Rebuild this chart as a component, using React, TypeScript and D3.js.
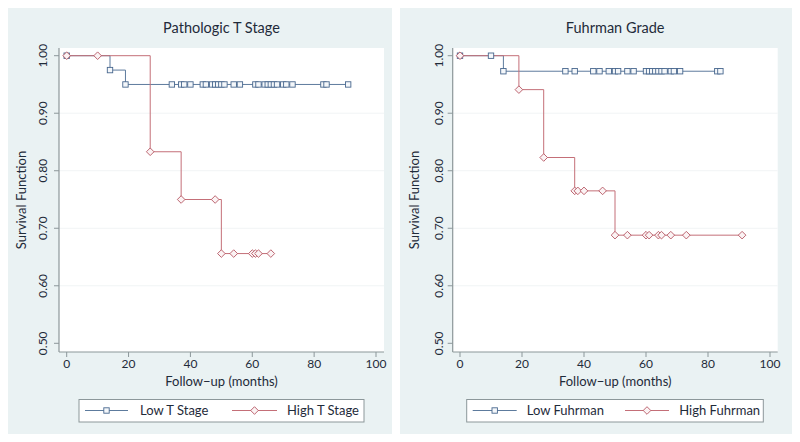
import React from "react";
import * as d3 from "d3";

// ---- Data ----
const xTicks = [0, 20, 40, 60, 80, 100];
const yTicks = [0.5, 0.6, 0.7, 0.8, 0.9, 1.0];

const lowTTimes = [0, 14, 19];
const lowTSurv = [1, 0.975, 0.95];
const lowTEnd = 91;
const lowTMarks = [0, 14, 19, 34, 37, 38, 40, 44, 45, 47, 48, 49, 50, 51, 54, 56, 61, 62, 64, 65, 66, 67, 68, 70, 71, 73, 83, 84, 91];

const highTTimes = [0, 27, 37, 50];
const highTSurv = [1, 0.833, 0.75, 0.656];
const highTEnd = 66;
const highTMarks = [0, 10, 27, 37, 48, 50, 54, 60, 61, 62, 66];

const lowFTimes = [0, 14];
const lowFSurv = [1, 0.973];
const lowFEnd = 84;
const lowFMarks = [0, 10, 14, 34, 37, 43, 45, 48, 50, 51, 54, 56, 60, 61, 62, 63, 64, 65, 66, 68, 69, 71, 83, 84];

const highFTimes = [0, 19, 27, 37, 50];
const highFSurv = [1, 0.941, 0.823, 0.765, 0.688];
const highFEnd = 91;
const highFMarks = [0, 19, 27, 37, 38, 40, 46, 50, 54, 60, 61, 64, 65, 68, 73, 91];

const panelTitles = ["Pathologic T Stage", "Fuhrman Grade"];
const lowLabels = ["Low T Stage", "Low Fuhrman"];
const highLabels = ["High T Stage", "High Fuhrman"];

// ---- Styles ----
const BG = "#eaf2f3";
const BLUE = "#5d7b9d";
const BLUE_M = "#48678e";
const RED = "#c46f78";
const RED_M = "#b55662";
const AXIS = "#8c979a";
const TEXT = "#1f2b3a";
const FONT = "Lato, 'Open Sans', sans-serif";

type Series = { times: number[]; surv: number[]; end: number; marks: number[] };

const survAt = (s: Series, t: number) => {
  let v = s.surv[0];
  for (let i = 0; i < s.times.length; i++) if (s.times[i] <= t) v = s.surv[i];
  return v;
};

const panels = [
  {
    bgX0: 8, bgX1: 392, plotX0: 59, plotX1: 384, x0: 66.7, x1: 376, ytitleX: 22, ylabX: 43,
    legX0: 79, legX1: 364, lowLine: [85, 128], highLine: [232, 277], lowText: 140, highText: 287,
    low: { times: lowTTimes, surv: lowTSurv, end: lowTEnd, marks: lowTMarks },
    high: { times: highTTimes, surv: highTSurv, end: highTEnd, marks: highTMarks },
  },
  {
    bgX0: 400, bgX1: 792, plotX0: 452.7, plotX1: 777.7, x0: 460, x1: 770, ytitleX: 415, ylabX: 439,
    legX0: 466.7, legX1: 763.3, lowLine: [472.7, 516.7], highLine: [625, 669], lowText: 526.7, highText: 679.3,
    low: { times: lowFTimes, surv: lowFSurv, end: lowFEnd, marks: lowFMarks },
    high: { times: highFTimes, surv: highFSurv, end: highFEnd, marks: highFMarks },
  },
];

const plotTop = 48;
const plotBottom = 352;

const Square = ({ x, y }: { x: number; y: number }) => (
  <rect x={x - 2.7} y={y - 2.7} width={5.4} height={5.4} fill="#f4f7fa" stroke={BLUE_M} strokeWidth={0.9} />
);
const Diamond = ({ x, y }: { x: number; y: number }) => (
  <path d={`M${x},${y - 3.8}L${x + 3.8},${y}L${x},${y + 3.8}L${x - 3.8},${y}Z`} fill="#fbf3f4" stroke={RED_M} strokeWidth={0.9} />
);

function Panel({ p, idx }: { p: any; idx: number }) {
  const x = d3.scaleLinear().domain([0, 100]).range([p.x0, p.x1]);
  const y = d3.scaleLinear().domain([0.5, 1.0]).range([343.3, 55.7]);
  const line = d3
    .line<[number, number]>()
    .x((d) => x(d[0]))
    .y((d) => y(d[1]))
    .curve(d3.curveStepAfter);
  const pts = (s: Series): [number, number][] => {
    const arr: [number, number][] = s.times.map((t, i) => [t, s.surv[i]]);
    arr.push([s.end, s.surv[s.surv.length - 1]]);
    return arr;
  };
  const cx = (p.plotX0 + p.plotX1) / 2;
  const cy = (plotTop + plotBottom) / 2;
  const legY = 410.5;
  return (
    <g>
      <rect x={p.bgX0} y={8} width={p.bgX1 - p.bgX0} height={426} fill={BG} />
      <rect x={p.plotX0} y={plotTop} width={p.plotX1 - p.plotX0} height={plotBottom - plotTop} fill="#ffffff" />
      {yTicks.slice(1, 5).map((t) => (
        <line key={t} x1={p.plotX0} x2={p.plotX1} y1={y(t)} y2={y(t)} stroke="#f1f4f5" strokeWidth={1} />
      ))}
      <text x={cx} y={33} textAnchor="middle" fontFamily={FONT} fontSize={14.5} fill={TEXT}>
        {panelTitles[idx]}
      </text>
      {/* axes */}
      <line x1={p.plotX0} x2={p.plotX0} y1={plotTop} y2={plotBottom} stroke={AXIS} strokeWidth={1.2} />
      <line x1={p.plotX0} x2={p.plotX1} y1={plotBottom} y2={plotBottom} stroke={AXIS} strokeWidth={1.2} />
      {yTicks.map((t) => (
        <g key={t}>
          <line x1={p.plotX0 - 5} x2={p.plotX0} y1={y(t)} y2={y(t)} stroke={AXIS} strokeWidth={1} />
          <text
            transform={`translate(${p.ylabX + 4},${y(t)}) rotate(-90)`}
            textAnchor="middle"
            fontFamily={FONT}
            fontSize={12}
            fill={TEXT}
          >
            {t.toFixed(2)}
          </text>
        </g>
      ))}
      {xTicks.map((t) => (
        <g key={t}>
          <line x1={x(t)} x2={x(t)} y1={plotBottom} y2={plotBottom + 5} stroke={AXIS} strokeWidth={1} />
          <text x={x(t)} y={368} textAnchor="middle" fontFamily={FONT} fontSize={12} fill={TEXT}>
            {t}
          </text>
        </g>
      ))}
      <text x={cx} y={386} textAnchor="middle" fontFamily={FONT} fontSize={13} fill={TEXT}>
        Follow−up (months)
      </text>
      <text
        transform={`translate(${p.ytitleX + 4},${cy}) rotate(-90)`}
        textAnchor="middle"
        fontFamily={FONT}
        fontSize={13}
        fill={TEXT}
      >
        Survival Function
      </text>
      {/* curves */}
      <path d={line(pts(p.low)) || ""} fill="none" stroke={BLUE} strokeWidth={1} />
      <path d={line(pts(p.high)) || ""} fill="none" stroke={RED} strokeWidth={1} />
      {p.low.marks.map((t: number, i: number) => (
        <Square key={"l" + i} x={x(t)} y={y(survAt(p.low, t))} />
      ))}
      {p.high.marks.map((t: number, i: number) => (
        <Diamond key={"h" + i} x={x(t)} y={y(survAt(p.high, t))} />
      ))}
      {/* legend */}
      <rect x={p.legX0} y={399.5} width={p.legX1 - p.legX0} height={22.5} fill="#ffffff" stroke={AXIS} strokeWidth={1} />
      <line x1={p.lowLine[0]} x2={p.lowLine[1]} y1={legY} y2={legY} stroke={BLUE} strokeWidth={1} />
      <Square x={(p.lowLine[0] + p.lowLine[1]) / 2} y={legY} />
      <text x={p.lowText} y={415} fontFamily={FONT} fontSize={13} fill={TEXT}>
        {lowLabels[idx]}
      </text>
      <line x1={p.highLine[0]} x2={p.highLine[1]} y1={legY} y2={legY} stroke={RED} strokeWidth={1} />
      <Diamond x={(p.highLine[0] + p.highLine[1]) / 2} y={legY} />
      <text x={p.highText} y={415} fontFamily={FONT} fontSize={13} fill={TEXT}>
        {highLabels[idx]}
      </text>
    </g>
  );
}

export default function App() {
  return (
    <svg width={800} height={442} style={{ position: "absolute", left: 0, top: 0, background: "#ffffff" }}>
      {panels.map((p, i) => (
        <Panel key={i} p={p} idx={i} />
      ))}
    </svg>
  );
}
